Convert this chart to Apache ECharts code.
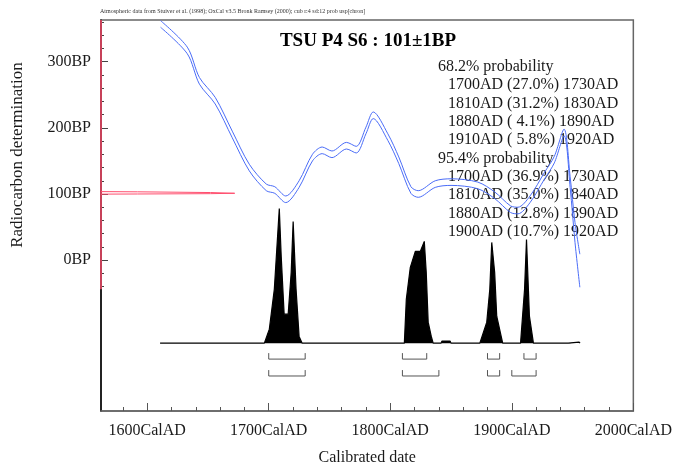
<!DOCTYPE html>
<html>
<head>
<meta charset="utf-8">
<script src="https://cdn.jsdelivr.net/npm/echarts@6/dist/echarts.min.js"></script>
<style>
html, body { margin: 0; padding: 0; background: #fff; }
#main { width: 675px; height: 471px; }
</style>
</head>
<body>
<div id="main"></div>
<script>
// calibration curve: centre (BP) and 1 sigma
let curveYears = [1611, 1633, 1643, 1656, 1670, 1684, 1698, 1705, 1714, 1725, 1736, 1744, 1752, 1764, 1772, 1780, 1786, 1798, 1807, 1817, 1823, 1837, 1850, 1872, 1886, 1899, 1905, 1915, 1927, 1935, 1943, 1948, 1952, 1956];
let curveBP = [357, 317, 271, 241, 190, 140, 110, 106, 92, 115, 155, 166, 160, 173, 167, 196, 219, 186, 151, 106, 100, 115, 118, 113, 98, 77, 75, 92, 128, 152, 193, 118, 42, -16];
let curveErr = [5, 5, 5, 5, 5, 5, 5, 5, 5, 5, 5, 5, 5, 5, 5, 5, 5, 5, 5, 5, 5, 5, 5, 5, 5, 5, 5, 5, 5, 5, 5, 8, 15, 25];

// calibrated probability (relative, tallest peak = 100)
let probYears = [1610.6, 1696.4, 1700.5, 1704.6, 1708.7, 1710.3, 1712.7, 1716, 1718.5, 1720.1, 1722.5, 1725, 1727.5,
    1811.6, 1813.2, 1816.5, 1820.6, 1824.7, 1828, 1829.6, 1831.2, 1833.7, 1835.3,
    1841.8, 1842.5, 1849.3, 1850,
    1873.7, 1879.4, 1881.9, 1883.5, 1885.9, 1887.6, 1892.5,
    1907.2, 1910.5, 1912.1, 1914.5, 1917.8,
    1946.5, 1947.5, 1955.2, 1956.2];
let probValues = [0, 0, 10.4, 40, 100, 64, 21.5, 21.5, 52.6, 90.4, 40, 5, 0,
    0, 32.6, 56.3, 68.1, 68.1, 75.6, 52.6, 15.6, 5.2, 0,
    0, 1.5, 1.5, 0,
    0, 15.6, 40, 74.8, 52.6, 20, 0,
    0, 40, 77, 20, 0,
    0, 0.8, 0.8, 0];

// measured date 101±1BP, drawn on the BP axis
let dateYears = [1562, 1592, 1652, 1672, 1652, 1592, 1562];
let dateBP = [103.6, 103.3, 102.2, 101.1, 100.5, 100.0, 99.8];

// calibrated ranges
let rangeLevels = ['68.2% probability', '95.4% probability'];
let rangeFrom = [[1700, 1810, 1880, 1910], [1700, 1810, 1880, 1900]];
let rangeTo = [[1730, 1830, 1890, 1920], [1730, 1840, 1890, 1920]];
let rangePct = [[27.0, 31.2, 4.1, 5.8], [36.9, 35.0, 12.8, 10.7]];

// ticks
let xMajor = [1600, 1700, 1800, 1900, 2000];
let xMinor = [1580, 1600, 1620, 1640, 1660, 1680, 1700, 1720, 1740, 1760, 1780, 1800, 1820, 1840, 1860, 1880, 1900, 1920, 1940, 1960, 1980, 2000];
let yMajor = [0, 100, 200, 300];
let yMinor = [-40, -20, 0, 20, 40, 60, 80, 100, 120, 140, 160, 180, 200, 220, 240, 260, 280, 300, 320, 340, 360];

const serif = '"Liberation Serif", "Times New Roman", serif';
const xMin = 1562, xMax = 2000;
const bpMin = -228, bpMax = 363, redBottom = -44;
const bracketTop = [-7.4, -20];
const bracketLine = [-11.85, -24.4];

let container = document.getElementById('main');
let chart = echarts.init(container);

let upper = curveYears.map((y, i) => [y, curveBP[i] + curveErr[i]]);
let lower = curveYears.map((y, i) => [y, curveBP[i] - curveErr[i]]);
let prob = probYears.map((y, i) => [y, probValues[i]]);
let dateLine = dateYears.map((y, i) => [y, dateBP[i]]);

let brackets = [];
rangeFrom.forEach((row, r) => {
    row.forEach((from, i) => brackets.push([from, rangeTo[r][i], r]));
});

// range texts at top right
let texts = [];
let line = 0;
rangeLevels.forEach((level, r) => {
    texts.push({ type: 'text', x: 438, y: 66.7 + line * 18.33,
        style: { text: level, font: '16px ' + serif, fill: '#1a1a1a', textVerticalAlign: 'middle' } });
    line++;
    rangeFrom[r].forEach((from, i) => {
        let p = rangePct[r][i];
        let pct = (p < 10 ? ' ' : '') + p.toFixed(1);
        texts.push({ type: 'text', x: 448, y: 66.7 + line * 18.33,
            style: { text: from + 'AD (' + pct + '%) ' + rangeTo[r][i] + 'AD', font: '16px ' + serif, fill: '#1a1a1a', textVerticalAlign: 'middle' } });
        line++;
    });
});

const option = {
    animation: false,
    grid: {
        left: 101, right: 38, top: 20, bottom: 59,
        show: true, borderColor: '#666', borderWidth: 1.5
    },
    xAxis: [
        {
            type: 'value', min: xMin, max: xMax, position: 'bottom',
            axisLine: { onZero: false, lineStyle: { color: '#666', width: 1.5 } },
            axisTick: { inside: true, length: 8, customValues: xMajor, lineStyle: { color: '#555' } },
            axisLabel: { customValues: xMajor, formatter: v => v + 'CalAD', fontSize: 16, fontFamily: serif, color: '#1a1a1a', margin: 12 },
            splitLine: { show: false },
            name: 'Calibrated date', nameLocation: 'middle', nameGap: 39,
            nameTextStyle: { fontSize: 16, fontFamily: serif, color: '#1a1a1a' }
        },
        {
            type: 'value', min: xMin, max: xMax, position: 'bottom',
            axisLine: { show: false, onZero: false },
            axisTick: { inside: true, length: 4, customValues: xMinor, lineStyle: { color: '#555' } },
            axisLabel: { show: false },
            splitLine: { show: false }
        }
    ],
    yAxis: [
        {
            type: 'value', min: bpMin, max: bpMax, position: 'left',
            axisLine: { show: true, onZero: false, lineStyle: { color: '#000', width: 1.5 } },
            axisTick: { inside: true, length: 7, customValues: yMajor, lineStyle: { color: '#444' } },
            axisLabel: { customValues: yMajor, formatter: v => v + 'BP', fontSize: 16, fontFamily: serif, color: '#1a1a1a', margin: 10 },
            splitLine: { show: false }
        },
        {
            type: 'value', min: bpMin, max: bpMax, position: 'left',
            axisLine: { show: false, onZero: false },
            axisTick: { inside: true, length: 3, customValues: yMinor, lineStyle: { color: '#444' } },
            axisLabel: { show: false },
            splitLine: { show: false }
        },
        { type: 'value', min: -50.4, max: 240, position: 'left', show: false }
    ],
    graphic: [
        { type: 'text', x: 100, y: 11,
          style: { text: 'Atmospheric data from Stuiver et al. (1998); OxCal v3.5 Bronk Ramsey (2000); cub r:4 sd:12 prob usp[chron]',
                   font: '6px ' + serif, fill: '#333', textVerticalAlign: 'middle' } },
        { type: 'text', x: 368, y: 41,
          style: { text: 'TSU P4 S6 : 101±1BP', font: 'bold 19px ' + serif, fill: '#000', textAlign: 'center', textVerticalAlign: 'middle' } },
        { type: 'text', x: 18, y: 155, rotation: Math.PI / 2,
          style: { text: 'Radiocarbon determination', font: '17px ' + serif, fill: '#1a1a1a', textAlign: 'center', textVerticalAlign: 'middle' } }
    ].concat(texts),
    series: [
        {
            type: 'line', data: prob, xAxisIndex: 0, yAxisIndex: 2,
            symbol: 'none', lineStyle: { color: '#000', width: 1.2 },
            areaStyle: { color: '#000', opacity: 1 }
        },
        {
            type: 'line', data: upper, symbol: 'none', smooth: 0.3,
            lineStyle: { color: '#4a6cf7', width: 1 }
        },
        {
            type: 'line', data: lower, symbol: 'none', smooth: 0.3,
            lineStyle: { color: '#4a6cf7', width: 1 }
        },
        {
            type: 'line', data: dateLine, symbol: 'none',
            lineStyle: { color: '#ff4d6d', width: 1 }
        },
        {
            // red part of the BP axis
            type: 'line', data: [[xMin, redBottom], [xMin, bpMax]], symbol: 'none', clip: false, z: 5,
            lineStyle: { color: '#ff4d6d', width: 1.5 }
        },
        {
            type: 'custom', xAxisIndex: 0, yAxisIndex: 2, data: brackets,
            encode: { x: [0, 1] },
            renderItem: function (params, api) {
                let r = api.value(2);
                let a = api.coord([api.value(0), bracketTop[r]]);
                let b = api.coord([api.value(0), bracketLine[r]]);
                let c = api.coord([api.value(1), bracketLine[r]]);
                let d = api.coord([api.value(1), bracketTop[r]]);
                return {
                    type: 'polyline',
                    shape: { points: [a, b, c, d] },
                    style: { stroke: '#555', fill: null, lineWidth: 1 }
                };
            }
        }
    ]
};
chart.setOption(option);
</script>
</body>
</html>
